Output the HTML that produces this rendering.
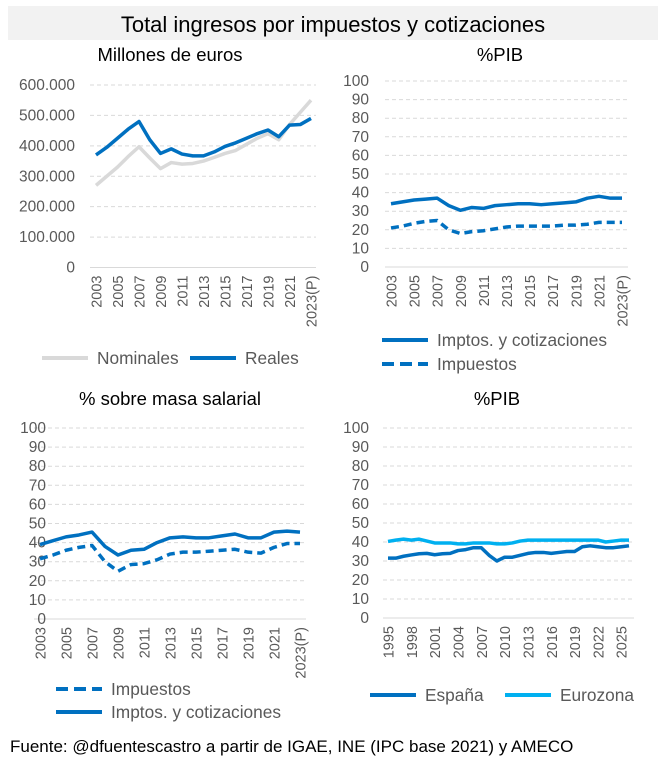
<!DOCTYPE html>
<html><head><meta charset="utf-8"><style>
body{margin:0;background:#fff;font-family:"Liberation Sans",sans-serif}
svg text{font-family:"Liberation Sans",sans-serif}
</style></head><body>
<svg id="s" width="666" height="769" xmlns="http://www.w3.org/2000/svg">
<rect x="8" y="6" width="650" height="34" fill="#f2f2f2"/>
<text x="333" y="32" text-anchor="middle" font-size="22" fill="#000">Total ingresos por impuestos y cotizaciones</text>
<text x="10" y="752" font-size="17" fill="#000">Fuente: @dfuentescastro a partir de IGAE, INE (IPC base 2021) y AMECO</text>
</svg>
<script>
const yearsA=["2003","2004","2005","2006","2007","2008","2009","2010","2011","2012","2013","2014","2015","2016","2017","2018","2019","2020","2021","2022","2023(P)"];
const reales=[370,395,425,455,480,420,375,390,373,367,367,380,398,410,425,440,452,430,468,470,490];
const nominales=[270,300,330,365,397,360,325,345,340,342,350,362,375,385,405,425,440,420,470,510,550];
const pibTot=[34,35,36,36.5,37,33,30.5,32,31.5,33,33.5,34,34,33.5,34,34.5,35,37,38,37,37];
const pibImp=[21,22,23.5,24.5,25,20,18,19,19.5,20.5,21.5,22,22,22,22,22.5,22.5,23,24,24,24];
const salTot=[39,41,43,44,45.5,38,33.5,36,36.5,40,42.5,43,42.5,42.5,43.5,44.5,42.5,42.5,45.5,46,45.5];
const salImp=[31.5,33.5,36,37.5,38.5,30,25,28.5,29,31,34,35,35,35.5,36,36.5,35,34.5,37.5,39.5,39.5];
const yearsB=["1995","1996","1997","1998","1999","2000","2001","2002","2003","2004","2005","2006","2007","2008","2009","2010","2011","2012","2013","2014","2015","2016","2017","2018","2019","2020","2021","2022","2023","2024","2025","2026"];
const espana=[31.5,31.5,32.5,33.2,33.8,34,33.3,33.8,34,35.5,36,37,37,33,30,32,32,33,34,34.5,34.5,34,34.5,35,35,37.5,38,37.5,37,37,37.5,38];
const eurozona=[40.3,41,41.5,41,41.5,40.5,39.5,39.5,39.5,39,39,39.5,39.5,39.5,39,39,39.5,40.5,41,41,41,41,41,41,41,41,41,41,40,40.5,41,41];
const ticksA=["0","100.000","200.000","300.000","400.000","500.000","600.000"];
const ticksP=["0","10","20","30","40","50","60","70","80","90","100"];
const NS="http://www.w3.org/2000/svg";
const svg=document.getElementById('s');
function el(t,a,p){const e=document.createElementNS(NS,t);for(const k in a)e.setAttribute(k,a[k]);(p||svg).appendChild(e);return e;}
function chart(c){
  const g=el('g',{});
  
  
  const n=c.cats.length;
  const xs=i=>c.x0+(c.x1-c.x0)*i/(n-1);
  const ys=v=>c.yb-(c.yb-c.yt)*v/c.max;
  const t=el('text',{x:c.tx,y:c.ty,'text-anchor':'middle','font-size':18.5,fill:'#000'},g);t.textContent=c.title;
  
  
  c.ticks.forEach((lab,i)=>{const v=c.max*i/(c.ticks.length-1);const y=ys(v);
    const l=el('line',{x1:c.gx0,x2:c.gx1,y1:y,y2:y,stroke:'#d9d9d9','stroke-width':1,'stroke-dasharray':i==0?'':'4 3'},g);
    
    
    const tt=el('text',{x:c.lx,y:y+5,'text-anchor':'end','font-size':15.5,fill:'#595959'},g);tt.textContent=lab;
    
    
  });
  c.cats.forEach((lab,i)=>{if(i%c.step)return;const x=xs(i)+5.5;const y=ys(0)+8;
    const tt=el('text',{x:x,y:y,'text-anchor':'end','font-size':14.5,fill:'#595959',transform:`rotate(-90 ${x} ${y})`},g);tt.textContent=lab;
    
    
  });
  c.series.forEach(s=>{
    const p=el('polyline',{points:s.d.map((v,i)=>xs(i)+','+ys(v)).join(' '),fill:'none',stroke:s.col,'stroke-width':3.5,'stroke-linejoin':'round','stroke-dasharray':s.dash?'8 5':''},g);
    
    
    const l=el('line',{x1:s.lgx,x2:s.lgx+46,y1:s.lgy,y2:s.lgy,stroke:s.col,'stroke-width':4,'stroke-dasharray':s.dash?'12 6':''},g);
    
    
    const tt=el('text',{x:s.lgx+55,y:s.lgy+6,'font-size':17.3,fill:'#595959'},g);tt.textContent=s.lab;
    
    
  });
}
chart({name:'chart-millones',title:'Millones de euros',tx:170,ty:61,cats:yearsA,step:2,x0:96,x1:311,yb:267.5,yt:85,max:600,ticks:ticksA,gx0:90,gx1:316,lx:75,
 series:[{key:'nominales',d:nominales,col:'#d9d9d9',lab:'Nominales',lgx:42,lgy:358},{key:'reales',d:reales,col:'#0070c0',lab:'Reales',lgx:190,lgy:358}]});
chart({name:'chart-pib',title:'%PIB',tx:500,ty:61,cats:yearsA,step:2,x0:391,x1:622,yb:267,yt:81,max:100,ticks:ticksP,gx0:385,gx1:628,lx:369,
 series:[{key:'imptos-cotizaciones',d:pibTot,col:'#0070c0',lab:'Imptos. y cotizaciones',lgx:382,lgy:340},{key:'impuestos',d:pibImp,col:'#0070c0',dash:1,lab:'Impuestos',lgx:382,lgy:364}]});
chart({name:'chart-masa-salarial',title:'% sobre masa salarial',tx:170,ty:405,cats:yearsA,step:2,x0:40,x1:300,yb:619,yt:428,max:100,ticks:ticksP,gx0:34,gx1:306,lx:46,
 series:[{key:'impuestos',d:salImp,col:'#0070c0',dash:1,lab:'Impuestos',lgx:56,lgy:689},{key:'imptos-cotizaciones',d:salTot,col:'#0070c0',lab:'Imptos. y cotizaciones',lgx:56,lgy:712}]});
chart({name:'chart-pib-eurozona',title:'%PIB',tx:497,ty:405,cats:yearsB,step:3,x0:388,x1:629,yb:618,yt:428,max:100,ticks:ticksP,gx0:383,gx1:634,lx:369,
 series:[{key:'espana',d:espana,col:'#0070c0',lab:'España',lgx:370,lgy:695},{key:'eurozona',d:eurozona,col:'#00b0f0',lab:'Eurozona',lgx:505,lgy:695}]});
</script>
</body></html>
